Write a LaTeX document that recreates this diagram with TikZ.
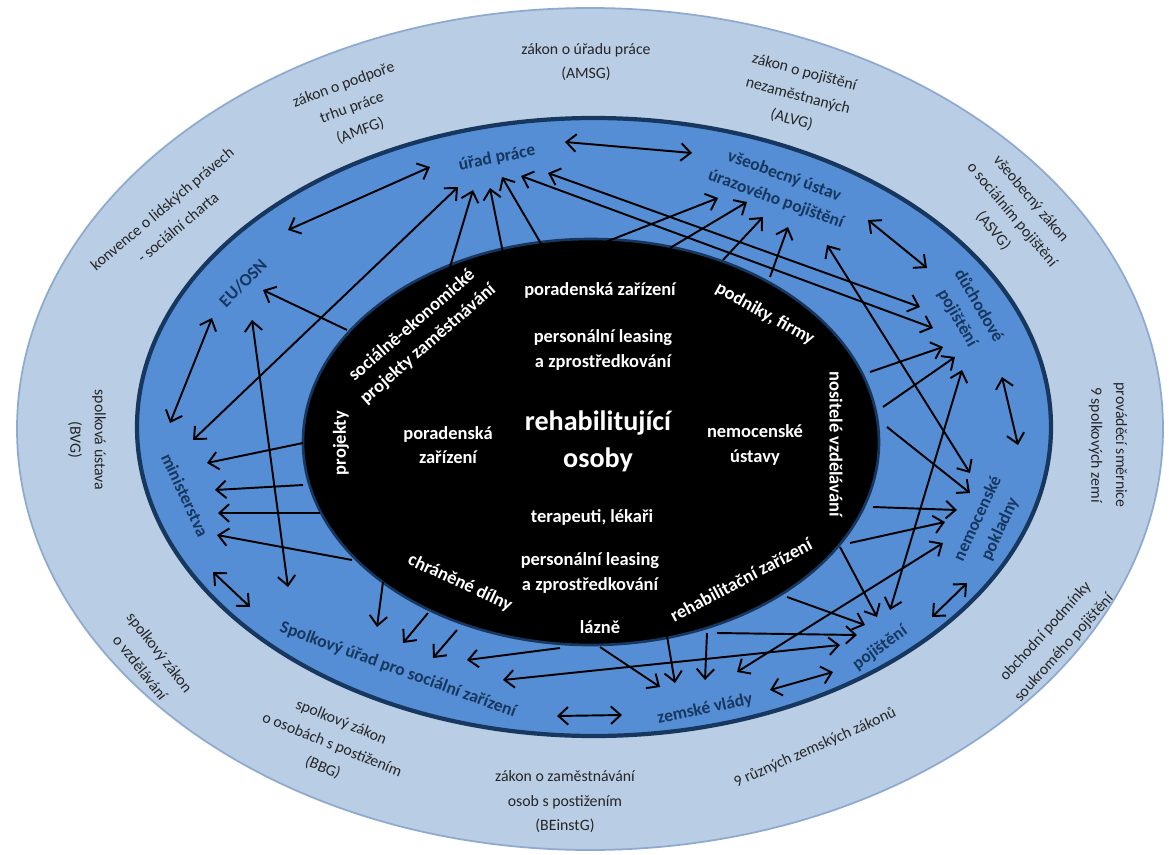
\documentclass[tikz,border=0pt]{standalone}
\usepackage{fontspec}
\setmainfont{Carlito}
\usetikzlibrary{arrows.meta}
\definecolor{ringlight}{HTML}{B9CDE5}
\definecolor{ringedge}{HTML}{8EAAD0}
\definecolor{ringmid}{HTML}{558ED5}
\definecolor{navy}{HTML}{17375E}
\definecolor{lawgray}{HTML}{262626}

\begin{document}
\begin{tikzpicture}[x=0.02cm,y=-0.02cm,>={Straight Barb[length=5.5pt,width=10pt]}]
  \tikzstyle{law}=[text=lawgray,font=\fontsize{9}{14}\selectfont,align=center,inner sep=0pt]
  \tikzstyle{office}=[text=navy,font=\bfseries\fontsize{10}{14}\selectfont,align=center,inner sep=0pt]
  \tikzstyle{actor}=[text=white,font=\bfseries\fontsize{10.5}{14}\selectfont,align=center,inner sep=0pt]
  \tikzstyle{link}=[line width=1.1pt,black]
  \useasboundingbox (0,0) rectangle (1173,855);
  \fill[white] (0,0) rectangle (1173,855);

  % the three rings
  \draw[fill=ringlight,draw=ringedge,line width=1pt] (590,429) ellipse [x radius=573,y radius=421];
  \draw[fill=ringmid,draw=navy,line width=2.4pt] (594,427) ellipse [x radius=457,y radius=309];
  \draw[fill=black,draw=navy,line width=1.5pt] (591,442) ellipse [x radius=288,y radius=203];

  % one-way links, core -> office
  \foreach \k/\ax/\ay/\bx/\by in {1/450/267/473/190, 2/503/253/490/188, 3/543/247/502/177,
      4/603/243/718/198, 5/670/248/747/202, 6/723/260/763/217, 7/770/277/788/227,
      8/347/330/263/290, 10/870/372/943/347, 11/883/407/955/357,
      12/887/427/970/493, 13/873/507/957/510, 14/850/543/945/522,
      15/840/547/877/617, 16/787/597/865/625, 17/717/633/857/635,
      18/707/633/705/680, 19/667/636/675/683, 20/600/647/660/687,
      21/560/648/467/660, 22/457/630/433/658, 23/428/613/403/643, 24/383/582/377/627,
      25/303/443/207/463, 26/303/485/215/490, 27/320/513/218/513, 28/352/560/217/535}
  {
    \coordinate (s-\k) at (\ax,\ay);
    \coordinate (t-\k) at (\bx,\by);
    \draw[link,->] (s-\k) -- (t-\k);
  }

  % two-way links between offices
  \foreach \k/\ax/\ay/\bx/\by in {1/288/230/430/167, 2/565/142/692/153, 3/868/220/927/268,
      4/1002/377/1018/445, 5/967/583/932/617, 6/833/672/770/690, 7/622/715/557/716,
      8/250/607/213/572, 9/170/423/212/318, 10/193/440/458/187, 11/252/320/288/587,
      12/548/173/920/307, 13/521/176/933/328, 14/827/245/970/473, 15/890/610/962/370,
      16/737/672/943/543, 17/503/680/840/645}
  {
    \coordinate (p-\k) at (\ax,\ay);
    \coordinate (q-\k) at (\bx,\by);
    \draw[link,<->] (p-\k) -- (q-\k);
  }

  % laws in the outer ring
  \node[law] (l-amsg) at (586,62) {zákon o úřadu práce\\(AMSG)};
  \node[law,rotate=20] (l-amfg) at (352,108) {zákon o podpoře\\trhu práce\\(AMFG)};
  \node[law,rotate=40] (l-charta) at (170,218) {konvence o lidských právech\\- sociální charta};
  \node[law,rotate=-15] (l-alvg) at (798,96) {zákon o pojištění\\nezaměstnaných\\(ALVG)};
  \node[law,rotate=-50] (l-asvg) at (1012,215) {všeobecný zákon\\o sociálním pojištění\\(ASVG)};
  \node[law,rotate=-90] (l-smernice) at (1108,445) {prováděcí směrnice\\9 spolkových zemí};
  \node[law,rotate=-90] (l-bvg) at (87,440) {spolková ústava\\(BVG)};
  \node[law,rotate=-52] (l-vzdel) at (150,660) {spolkový zákon\\o vzdělávání};
  \node[law,rotate=-22] (l-bbg) at (332,745) {spolkový zákon\\o osobách s postižením\\(BBG)};
  \node[law] (l-beinstg) at (565,802) {zákon o zaměstnávání\\osob s postižením\\(BEinstG)};
  \node[law,rotate=24] (l-zemske) at (815,748) {9 různých zemských zákonů};
  \node[law,rotate=48] (l-obchod) at (1055,640) {obchodní podmínky\\soukromého pojištění};

  % offices in the middle ring
  \node[office,rotate=11] (urad) at (497,158) {úřad práce};
  \node[office,rotate=-20] (vseob) at (780,188) {všeobecný ústav\\úrazového pojištění};
  \node[office,rotate=-60] (duch) at (968,312) {důchodové\\pojištění};
  \node[office,rotate=65] (nemoc) at (989,524) {nemocenské\\pokladny};
  \node[office,rotate=36] (poj) at (880,648) {pojištění};
  \node[office,rotate=12] (zemske) at (705,709) {zemské vlády};
  \node[office,rotate=-20] (spolk) at (398,670) {Spolkový úřad pro sociální zařízení};
  \node[office,rotate=-65] (minist) at (185,495) {ministerstva};
  \node[office,rotate=45] (euosn) at (243,283) {EU/OSN};

  % actors in the black core
  \node[text=white,font=\bfseries\fontsize{16}{21}\selectfont,align=center,inner sep=0pt] (osoby) at (598,441) {rehabilitující\\osoby};
  \node[actor] (a-porad1) at (600,290) {poradenská zařízení};
  \node[actor] (a-leas1) at (603,350) {personální leasing\\a zprostředkování};
  \node[actor] (a-porad2) at (448,445) {poradenská\\zařízení};
  \node[actor] (a-nemoc) at (755,445) {nemocenské\\ústavy};
  \node[actor] (a-terap) at (592,517) {terapeuti, lékaři};
  \node[actor] (a-leas2) at (590,573) {personální leasing\\a zprostředkování};
  \node[actor] (a-lazne) at (600,627) {lázně};
  \node[actor,rotate=41] (a-socek) at (420,335) {sociálně-ekonomické\\projekty zaměstnávání};
  \node[actor,rotate=90] (a-proj) at (341,443) {projekty};
  \node[actor,rotate=-29] (a-podn) at (765,314) {podniky, firmy};
  \node[actor,rotate=-90] (a-nosit) at (836,444) {nositelé vzdělávání};
  \node[actor,rotate=-25] (a-dilny) at (460,583) {chráněné dílny};
  \node[actor,rotate=28] (a-rehab) at (741,580) {rehabilitační zařízení};
\end{tikzpicture}
\end{document}
